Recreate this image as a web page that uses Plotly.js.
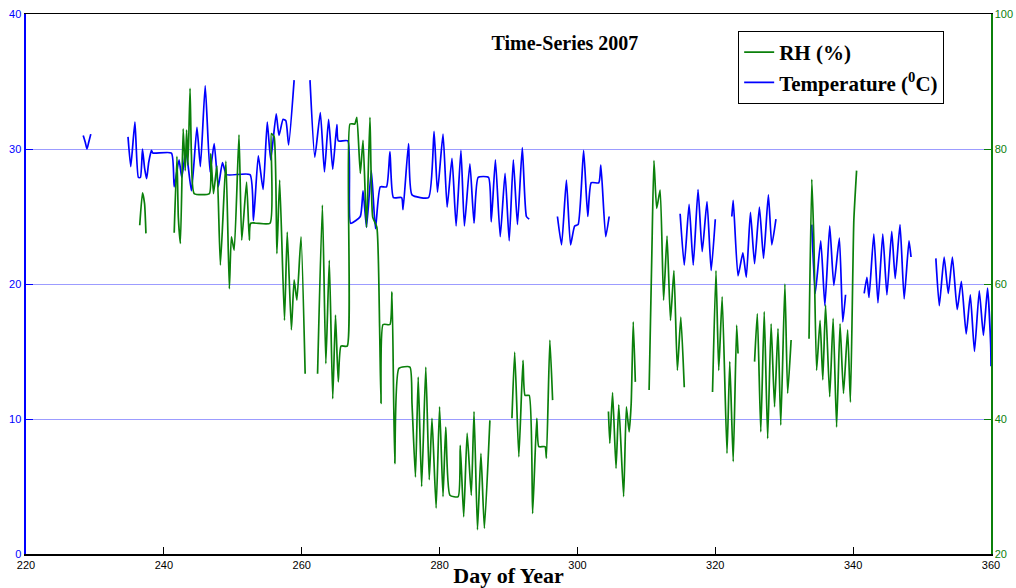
<!DOCTYPE html>
<html>
<head>
<meta charset="utf-8">
<script src="https://cdn.plot.ly/plotly-3.0.1.min.js"></script>
<style>html,body{margin:0;padding:0;background:#fff;}#chart{width:1016px;height:588px;}</style>
</head>
<body>
<div id="chart"></div>
<script>
// Day-of-year ticks and axis ticks
const xTicks = [220, 240, 260, 280, 300, 320, 340, 360];
const tempTicks = [0, 10, 20, 30, 40];
const rhTicks = [20, 40, 60, 80, 100];

// Temperature (deg C) series, null = data gap
const tempDay = [228.3,228.6,228.85,229.1,229.4,null,
234.8,235.2,235.8,236.3,236.6,236.9,237.2,237.5,237.8,238.2,238.4,241.1,241.5,242.2,242.6,243.2,244.0,244.8,245.3,246.0,246.7,247.3,247.9,248.5,249.1,252.5,253.0,253.7,254.4,255.0,255.5,256.3,256.7,257.3,257.7,258.1,258.9,null,
261.2,261.9,262.7,263.3,263.9,264.5,265.1,265.3,266.7,267.1,268.5,268.9,269.4,270.1,270.7,271.4,272.3,272.8,273.3,274.5,274.7,275.5,276.0,278.4,279.2,279.7,280.5,281.1,281.8,282.4,283.1,283.6,284.4,285.0,285.6,287.1,287.5,288.1,288.8,289.5,290.1,290.7,291.3,292.0,292.6,293.0,null,
297.1,297.7,298.4,299.0,299.6,300.1,300.9,301.5,302.0,303.1,303.4,304.1,304.6,null,
314.9,315.5,316.2,316.8,317.5,318.1,318.8,319.4,320.0,null,
322.4,322.6,323.3,324.0,324.5,325.1,325.7,326.4,327.0,327.7,328.2,328.8,null,
334.0,334.5,335.3,335.9,336.6,337.2,338.0,338.5,338.9,null,
341.6,342.0,342.3,343.0,343.6,344.3,344.9,345.6,346.1,346.8,347.4,348.1,348.4,null,
352.0,352.5,353.2,353.8,354.4,355.1,355.7,356.4,357.0,357.6,358.3,358.9,359.5,359.95,360.0];
const tempVal = [31.0,30.5,30.0,30.5,31.1,null,
30.9,28.7,32.0,27.9,27.9,30.0,28.6,27.8,29.0,29.9,29.7,29.7,27.2,29.2,27.9,29.9,26.9,31.6,28.7,34.7,28.3,30.4,27.2,29.0,28.1,28.1,24.7,29.5,27.0,32.0,29.2,32.6,31.0,32.2,32.1,30.3,35.1,null,
35.1,29.4,32.7,28.3,32.2,28.5,31.8,30.6,30.6,24.5,25.0,26.9,24.2,28.4,24.1,27.2,27.2,29.8,26.4,26.4,25.5,30.4,26.6,26.4,31.3,26.8,31.1,25.7,29.3,24.3,29.9,24.3,28.9,24.5,27.9,27.9,24.6,29.2,23.5,28.2,23.2,29.2,24.4,30.1,25.0,24.8,null,
25.0,22.9,27.7,22.9,24.3,24.4,29.9,25.0,27.5,27.5,28.8,23.5,25.0,null,
25.2,21.4,25.9,21.4,27.0,22.4,26.1,21.0,24.8,null,
25.0,26.2,20.6,22.3,20.5,25.3,21.5,25.7,21.9,26.6,22.9,24.8,null,
24.4,19.3,23.2,18.4,24.3,19.9,23.4,17.2,19.2,null,
19.3,20.5,19.0,23.7,18.6,23.7,19.2,23.9,20.4,24.4,18.9,23.2,22.0,null,
21.9,18.4,22.0,19.3,22.0,18.1,20.2,16.3,19.2,15.0,19.5,16.2,19.7,15.5,13.9];

// Relative humidity (%) series, null = data gap
const rhDay = [236.5,236.9,237.2,237.4,null,
241.5,241.9,242.1,242.4,242.8,243.1,243.3,243.5,243.8,244.0,244.4,246.6,246.8,247.2,247.7,248.2,249.0,249.5,249.8,250.2,250.9,251.3,252.0,252.4,252.6,255.4,255.6,256.0,256.4,256.8,257.5,257.9,258.5,258.9,259.3,259.9,260.5,null,
262.3,263.0,263.5,264.0,264.5,264.9,265.3,265.7,266.6,267.0,267.7,268.0,268.5,268.9,269.4,269.9,270.3,270.9,271.3,271.5,271.8,272.8,273.1,273.5,274.1,275.7,276.0,276.5,276.9,277.4,278.0,278.5,278.9,279.5,280.0,280.5,280.9,281.5,282.7,283.0,283.5,284.0,284.6,285.0,285.5,286.0,286.5,287.3,null,
290.5,290.9,291.5,292.1,292.4,293.0,293.5,294.1,294.4,295.3,295.5,296.0,296.4,null,
304.5,304.7,305.1,305.6,306.0,306.7,307.1,307.5,307.8,308.1,308.4,null,
310.4,310.8,311.1,311.5,312.0,312.5,313.0,313.5,314.0,314.5,315.0,315.5,null,
319.6,320.1,320.5,321.0,321.7,322.1,322.6,323.1,323.3,null,
325.7,326.1,326.6,327.1,327.6,328.1,328.6,329.1,329.5,330.1,330.5,331.0,null,
333.6,334.0,334.3,334.7,335.2,335.6,336.0,336.6,337.1,337.6,338.1,338.6,339.2,339.6,340.1,340.5];
const rhVal = [68.7,73.5,71.9,67.5,null,
67.6,78.9,69.9,66.0,83.0,76.8,82.8,77.6,89.0,79.1,73.4,73.4,79.3,73.4,77.5,62.8,78.2,59.3,67.0,65.0,82.1,66.5,75.1,66.5,69.0,69.0,82.3,81.8,64.5,75.4,54.6,67.7,53.2,60.6,57.6,67.0,46.7,null,
46.7,71.7,48.2,63.5,43.0,55.4,45.5,50.8,50.8,83.7,83.7,84.7,76.4,81.3,68.4,84.7,69.9,68.4,53.6,42.3,54.0,54.0,58.8,33.4,47.5,47.7,42.3,31.4,46.2,30.0,47.7,31.0,40.1,26.8,41.8,28.5,38.8,28.7,28.5,36.1,25.5,37.9,28.7,41.1,23.6,34.9,23.8,39.8,null,
40.1,49.9,34.4,48.7,43.5,43.5,26.0,40.1,35.9,35.9,34.2,51.7,42.8,null,
41.1,36.4,43.9,32.7,42.1,28.5,41.8,38.1,42.3,54.4,45.5,null,
44.3,64.7,78.3,71.2,73.9,57.6,67.1,54.6,62.0,47.2,55.1,44.7,null,
44.0,62.0,47.2,58.1,34.9,48.5,33.7,53.9,49.7,null,
48.5,55.6,38.1,55.9,37.1,54.1,41.8,53.4,39.1,60.0,43.8,51.7,null,
51.9,75.5,66.5,47.2,54.6,45.8,56.9,43.3,54.9,38.8,54.1,43.8,53.2,42.5,69.4,76.8];

const GREEN = '#0b800b';
const BLUE = '#0000ff';
const serif = '"Liberation Serif", "Times New Roman", serif';
const sans = '"Liberation Sans", Arial, sans-serif';

const traces = [
  {x: rhDay, y: rhVal, name: '<b>RH (%)</b>', type: 'scatter', mode: 'lines',
   line: {color: GREEN, width: 1.7, shape: 'spline', smoothing: 0.5}, yaxis: 'y2', connectgaps: false},
  {x: tempDay, y: tempVal, name: '<b>Temperature (<sup>0</sup>C)</b>', type: 'scatter', mode: 'lines',
   line: {color: BLUE, width: 1.7, shape: 'spline', smoothing: 0.5}, yaxis: 'y', connectgaps: false}
];

const layout = {
  width: 1016, height: 588,
  margin: {l: 26, r: 25, t: 14, b: 34, pad: 0},
  paper_bgcolor: '#fff', plot_bgcolor: '#fff',
  showlegend: true,
  title: {text: '<b>Time-Series 2007</b>', font: {family: serif, size: 20, color: '#000'},
          xref: 'paper', yref: 'paper', x: 0.5585, y: 0.947, xanchor: 'center', yanchor: 'middle'},
  xaxis: {range: [220, 360], tickvals: xTicks, ticktext: xTicks.map(String),
          ticks: 'inside', ticklen: 7, tickcolor: '#000', tickwidth: 1,
          showline: true, linecolor: '#000', linewidth: 1.5, mirror: true,
          showgrid: false, zeroline: false,
          tickfont: {family: sans, size: 11, color: '#000'},
          title: {text: '<b>Day of Year</b>', font: {family: serif, size: 22, color: '#000'}, standoff: 0}},
  yaxis: {range: [0, 40], tickvals: tempTicks, ticks: 'inside', ticklen: 7, tickcolor: BLUE,
          showline: true, linecolor: BLUE, linewidth: 2.5,
          showgrid: true, gridcolor: 'rgba(90,90,255,0.6)', gridwidth: 1, zeroline: false,
          tickfont: {family: sans, size: 11, color: BLUE}},
  yaxis2: {range: [20, 100], tickvals: rhTicks, overlaying: 'y', side: 'right',
           ticks: 'inside', ticklen: 7, tickcolor: GREEN,
           showline: true, linecolor: GREEN, linewidth: 1.5,
           showgrid: false, zeroline: false,
           tickfont: {family: sans, size: 11, color: GREEN}},
  legend: {x: 0.738, y: 0.9685, xanchor: 'left', yanchor: 'top',
           bgcolor: '#fff', bordercolor: '#000', borderwidth: 1,
           font: {family: serif, size: 21, color: '#000'}, tracegroupgap: 0}
};

Plotly.newPlot('chart', traces, layout, {displayModeBar: false, staticPlot: true});
</script>
</body>
</html>
